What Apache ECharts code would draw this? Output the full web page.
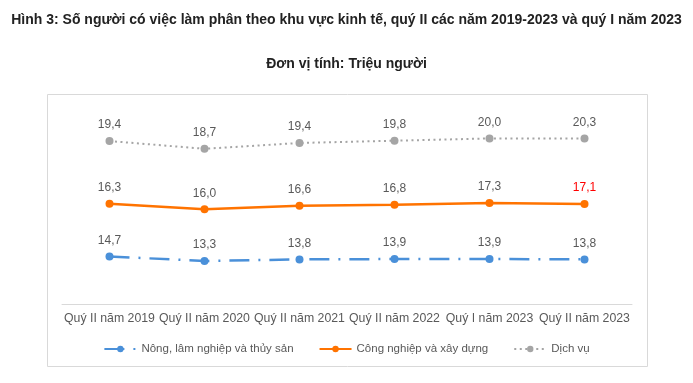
<!DOCTYPE html>
<html><head><meta charset="utf-8">
<script src="https://cdn.jsdelivr.net/npm/echarts@6/dist/echarts.min.js"></script>
<style>html,body{margin:0;padding:0;background:#fff}#c{width:693px;height:383px}</style>
</head><body><div id="c"></div>
<script>
const categories = ["Quý II năm 2019","Quý II năm 2020","Quý II năm 2021","Quý II năm 2022","Quý I năm 2023","Quý II năm 2023"];
const nongLam = [14.7,13.3,13.8,13.9,13.9,13.8];
const congNghiep = [16.3,16.0,16.6,16.8,17.3,17.1];
const dichVu = [19.4,18.7,19.4,19.8,20.0,20.3];
const names = ["Nông, lâm nghiệp và thủy sản","Công nghiệp và xây dựng","Dịch vụ"];
const redLabelIndex = 5;

const FONT = '"Liberation Sans", Arial, sans-serif';
const fmt = p => Number(p.value).toFixed(1).replace('.', ',');
function lbl(){ return {show:true, position:'top', distance:6, color:'#595959', fontSize:12, fontFamily:FONT, formatter:fmt}; }

const chart = echarts.init(document.getElementById('c'), null, {renderer:'canvas'});
chart.setOption({
  animation:false,
  title:[
    {text:'Hình 3: Số người có việc làm phân theo khu vực kinh tế, quý II các năm 2019-2023 và quý I năm 2023', left:'center', top:8,
     textStyle:{fontSize:14, fontWeight:'bold', color:'#222', fontFamily:FONT}},
    {text:'Đơn vị tính: Triệu người', left:'center', top:52,
     textStyle:{fontSize:14, fontWeight:'bold', color:'#222', fontFamily:FONT}}
  ],
  graphic:[{type:'rect', shape:{x:47.5, y:94.5, width:600, height:272}, style:{fill:'none', stroke:'#d9d9d9', lineWidth:1}, silent:true}],
  grid:{left:62, right:61, top:110, bottom:79},
  legend:{top:338, left:'center', itemGap:25, itemWidth:32, itemHeight:8,
    textStyle:{color:'#595959', fontSize:11.5, fontFamily:FONT}, data:names},
  xAxis:{type:'category', data:categories, boundaryGap:true,
    axisLine:{lineStyle:{color:'#d9d9d9'}}, axisTick:{show:false},
    axisLabel:{color:'#595959', fontSize:12.3, fontFamily:FONT, margin:9, interval:0}},
  yAxis:{type:'value', min:0, max:60, show:false, splitLine:{show:false}},
  series:[
    {name:names[0], type:'line', stack:'total', data:nongLam, symbol:'circle', symbolSize:8,
     itemStyle:{color:'#4a90d9'}, lineStyle:{width:2.5, type:[20,9,2,9], color:'#4a90d9'}, label:lbl()},
    {name:names[1], type:'line', stack:'total', symbol:'circle', symbolSize:8,
     data:congNghiep.map((v,i)=> i===redLabelIndex ? {value:v, label:{color:'#ff0000'}} : v),
     itemStyle:{color:'#ff7300'}, lineStyle:{width:2.5, color:'#ff7300'}, label:lbl()},
    {name:names[2], type:'line', stack:'total', data:dichVu, symbol:'circle', symbolSize:8,
     itemStyle:{color:'#a5a5a5'}, lineStyle:{width:2, type:[2,3.5], color:'#a5a5a5'}, label:lbl()}
  ]
});
</script></body></html>
